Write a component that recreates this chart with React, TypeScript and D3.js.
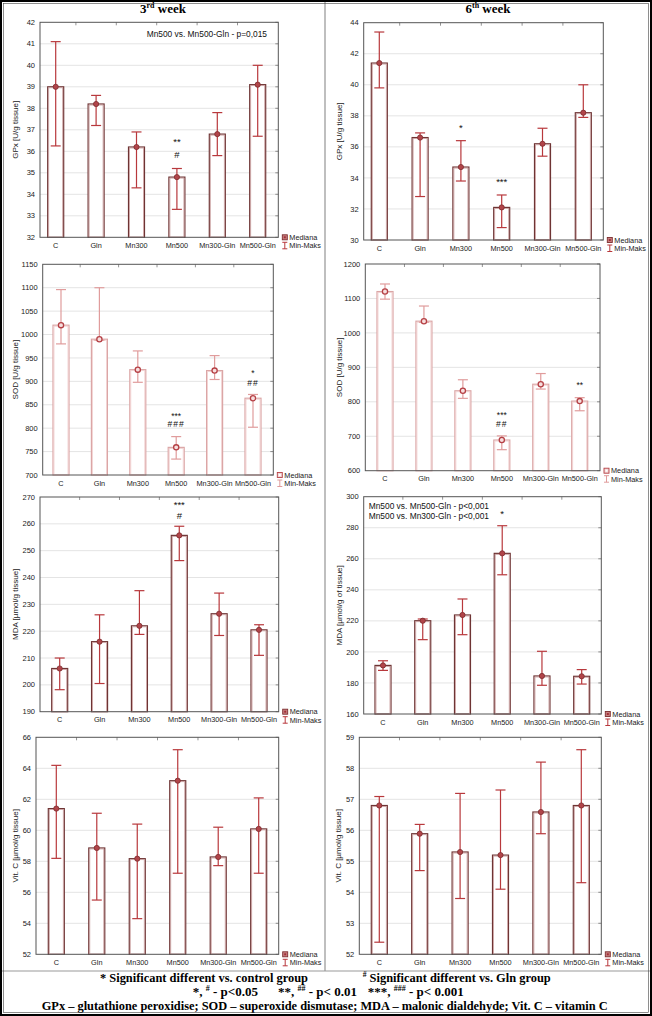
import React from "react";
import * as d3 from "d3";

const categories = ["C", "Gln", "Mn300", "Mn500", "Mn300-Gln", "Mn500-Gln"];

// GPx – 3rd week
const gpx3Median = [39.0, 38.2, 36.2, 34.8, 36.8, 39.1];
const gpx3Min = [36.25, 37.2, 34.3, 33.3, 35.8, 36.7];
const gpx3Max = [41.1, 38.6, 36.9, 35.2, 37.8, 40.0];
const gpx3Ticks = [32, 33, 34, 35, 36, 37, 38, 39, 40, 41, 42];
const gpx3Marks = [
  { cat: "Mn500", text: "**", at: 36.55 },
  { cat: "Mn500", text: "#", at: 35.86 },
];
const gpx3Notes = ["Mn500 vs. Mn500-Gln - p=0,015"];

// GPx – 6th week
const gpx6Median = [41.4, 36.6, 34.7, 32.1, 36.2, 38.2];
const gpx6Min = [39.8, 32.8, 33.8, 30.8, 35.4, 37.9];
const gpx6Max = [43.4, 36.9, 36.4, 32.9, 37.2, 40.0];
const gpx6Ticks = [30, 32, 34, 36, 38, 40, 42, 44];
const gpx6Marks = [
  { cat: "Mn300", text: "*", at: 37.4 },
  { cat: "Mn500", text: "***", at: 33.87 },
];

// SOD – 3rd week
const sod3Median = [1020, 990, 925, 759, 923, 864];
const sod3Min = [980, 988, 898, 734, 904, 802];
const sod3Max = [1096, 1100, 965, 782, 955, 872];
const sod3Ticks = [700, 750, 800, 850, 900, 950, 1000, 1050, 1100, 1150];
const sod3Marks = [
  { cat: "Mn500", text: "***", at: 831 },
  { cat: "Mn500", text: "###", at: 808 },
  { cat: "Mn500-Gln", text: "*", at: 921 },
  { cat: "Mn500-Gln", text: "##", at: 896 },
];

// SOD – 6th week
const sod6Median = [1120, 1034, 832, 689, 851, 802];
const sod6Min = [1098, 1031, 810, 661, 837, 774];
const sod6Max = [1142, 1078, 864, 701, 882, 812];
const sod6Ticks = [600, 700, 800, 900, 1000, 1100, 1200];
const sod6Marks = [
  { cat: "Mn500", text: "***", at: 766 },
  { cat: "Mn500", text: "##", at: 735 },
  { cat: "Mn500-Gln", text: "**", at: 853 },
];

// MDA – 3rd week
const mda3Median = [206.1, 216.1, 222.0, 255.7, 226.5, 220.5];
const mda3Min = [198.2, 200.5, 218.8, 246.3, 218.4, 211.0];
const mda3Max = [210.0, 226.1, 235.1, 259.1, 234.2, 222.4];
const mda3Ticks = [190, 200, 210, 220, 230, 240, 250, 260, 270];
const mda3Marks = [
  { cat: "Mn500", text: "***", at: 268.0 },
  { cat: "Mn500", text: "#", at: 263.1 },
];

// MDA – 6th week
const mda6Median = [191.3, 220.1, 223.8, 263.5, 184.5, 184.3];
const mda6Min = [188.1, 207.9, 211.1, 249.7, 178.5, 179.3];
const mda6Max = [194.3, 221.2, 234.1, 281.3, 200.4, 188.6];
const mda6Ticks = [160, 180, 200, 220, 240, 260, 280, 300];
const mda6Marks = [{ cat: "Mn500", text: "*", at: 290.3 }];
const mda6Notes = ["Mn500 vs. Mn500-Gln - p<0,001", "Mn500 vs. Mn300-Gln - p<0,001"];

// Vit. C – 3rd week
const vitc3Median = [61.4, 58.86, 58.17, 63.2, 58.28, 60.09];
const vitc3Min = [58.19, 55.5, 54.3, 57.23, 57.72, 57.23];
const vitc3Max = [64.19, 61.1, 60.4, 65.2, 60.2, 62.09];
const vitc3Ticks = [52, 54, 56, 58, 60, 62, 64, 66];

// Vit. C – 6th week
const vitc6Median = [56.8, 55.89, 55.3, 55.2, 56.59, 56.8];
const vitc6Min = [52.39, 54.7, 53.8, 54.1, 55.89, 54.31];
const vitc6Max = [57.09, 56.19, 57.19, 57.3, 58.2, 58.6];
const vitc6Ticks = [52, 53, 54, 55, 56, 57, 58, 59];

const SANS = "'Liberation Sans', Arial, sans-serif";
const SERIF = "'Liberation Serif', 'Times New Roman', serif";

type Mark = { cat: string; text: string; at: number };
type PanelCfg = {
  x0: number; x1: number; y0: number; y1: number; c0: number; c5: number;
  ticks: number[]; median: number[]; min: number[]; max: number[];
  title: string; titleX: number; pink?: boolean;
  marks?: Mark[]; notes?: string[]; noteX?: number; noteY?: number; noteAnchor?: string;
};

const panels: PanelCfg[] = [
  { x0: 40, x1: 278.3, y0: 22.3, y1: 237.3, c0: 55.7, c5: 257.7, ticks: gpx3Ticks,
    median: gpx3Median, min: gpx3Min, max: gpx3Max, title: "GPx [U/g tissue]", titleX: 16,
    marks: gpx3Marks, notes: gpx3Notes, noteX: 267, noteY: 36.5, noteAnchor: "end" },
  { x0: 363.7, x1: 603.3, y0: 22.7, y1: 240, c0: 379.3, c5: 583.3, ticks: gpx6Ticks,
    median: gpx6Median, min: gpx6Min, max: gpx6Max, title: "GPx [U/g tissue]", titleX: 340,
    marks: gpx6Marks },
  { x0: 42.7, x1: 273.3, y0: 264.3, y1: 475, c0: 61, c5: 253, ticks: sod3Ticks,
    median: sod3Median, min: sod3Min, max: sod3Max, title: "SOD [U/g tissue]", titleX: 16,
    pink: true, marks: sod3Marks },
  { x0: 365.3, x1: 600, y0: 264, y1: 470.7, c0: 385, c5: 579.7, ticks: sod6Ticks,
    median: sod6Median, min: sod6Min, max: sod6Max, title: "SOD [U/g tissue]", titleX: 340,
    pink: true, marks: sod6Marks },
  { x0: 40, x1: 278.7, y0: 497, y1: 711.7, c0: 59.7, c5: 259, ticks: mda3Ticks,
    median: mda3Median, min: mda3Min, max: mda3Max, title: "MDA [µmol/g tissue]", titleX: 16,
    marks: mda3Marks },
  { x0: 363.7, x1: 601.3, y0: 496.7, y1: 714, c0: 383, c5: 581.7, ticks: mda6Ticks,
    median: mda6Median, min: mda6Min, max: mda6Max, title: "MDA [µmol/g of tissue]", titleX: 339.5,
    marks: mda6Marks, notes: mda6Notes, noteX: 368.7, noteY: 509, noteAnchor: "start" },
  { x0: 36, x1: 278.7, y0: 737.3, y1: 954.3, c0: 56.3, c5: 258.7, ticks: vitc3Ticks,
    median: vitc3Median, min: vitc3Min, max: vitc3Max, title: "Vit. C [µmol/g tissue]", titleX: 16 },
  { x0: 359.3, x1: 601.3, y0: 737.3, y1: 954.3, c0: 379.3, c5: 581.3, ticks: vitc6Ticks,
    median: vitc6Median, min: vitc6Min, max: vitc6Max, title: "Vit. C [µmol/g tissue]", titleX: 338.5 },
];

function Panel({ p }: { p: PanelCfg }) {
  const dom = d3.extent(p.ticks) as [number, number];
  const y = d3.scaleLinear().domain(dom).range([p.y1, p.y0]);
  const x = d3.scalePoint<string>().domain(categories).range([p.c0, p.c5]);
  const step = x.step();
  const bw = 16;
  const cap = 10;
  const barOuter = p.pink ? "#dba6a6" : "#6e3434";
  const barInner = p.pink ? "#f0cccc" : "#c79a9a";
  const err = p.pink ? "#e09c9c" : "#b8383c";
  const mFill = p.pink ? "#f7dede" : "#b2454a";
  const mStroke = p.pink ? "#b54045" : "#7c2c2e";
  const markFs = p.pink ? 8.5 : 9.5;
  return (
    <g>
      {p.ticks.slice(1, -1).map((t) => (
        <line key={"g" + t} x1={p.x0} x2={p.x1} y1={y(t)} y2={y(t)} stroke="#e4e4e4" strokeWidth={1} />
      ))}
      {p.ticks.map((t) => (
        <line key={"r" + t} x1={p.x1 - 3} x2={p.x1} y1={y(t)} y2={y(t)} stroke="#777" strokeWidth={0.8} />
      ))}
      {categories.slice(0, -1).map((c) => (
        <line key={"t" + c} x1={(x(c) as number) + step / 2} x2={(x(c) as number) + step / 2}
          y1={p.y0} y2={p.y0 + 3} stroke="#777" strokeWidth={0.8} />
      ))}
      {categories.map((c, i) => {
        const cx = x(c) as number;
        const top = y(p.median[i]);
        return (
          <g key={"b" + c}>
            <rect x={cx - bw / 2} y={top} width={bw} height={p.y1 - top} fill="#fff"
              stroke={barOuter} strokeWidth={1.2} />
            <rect x={cx - bw / 2 + 1} y={top + 1} width={bw - 2} height={Math.max(0, p.y1 - top - 1)}
              fill="none" stroke={barInner} strokeWidth={0.8} />
          </g>
        );
      })}
      <rect x={p.x0} y={p.y0} width={p.x1 - p.x0} height={p.y1 - p.y0} fill="none" stroke="#555" strokeWidth={1} />
      {categories.map((c, i) => {
        const cx = x(c) as number;
        const ya = y(p.max[i]);
        const yb = y(p.min[i]);
        return (
          <g key={"e" + c} stroke={err} strokeWidth={1.2}>
            <line x1={cx} x2={cx} y1={ya} y2={yb} />
            <line x1={cx - cap / 2} x2={cx + cap / 2} y1={ya} y2={ya} />
            <line x1={cx - cap / 2} x2={cx + cap / 2} y1={yb} y2={yb} />
          </g>
        );
      })}
      {categories.map((c, i) => (
        <circle key={"m" + c} cx={x(c) as number} cy={y(p.median[i])} r={2.6}
          fill={mFill} stroke={mStroke} strokeWidth={p.pink ? 1.3 : 0.8} />
      ))}
      {p.ticks.map((t) => (
        <text key={"yl" + t} x={p.x0 - 5} y={y(t) + 2.6} textAnchor="end" fontFamily={SANS}
          fontSize={7.5} fill="#222">{t}</text>
      ))}
      {categories.map((c) => (
        <text key={"xl" + c} x={x(c) as number} y={p.y1 + 10.5} textAnchor="middle"
          fontFamily={SANS} fontSize={7.3} fill="#222">{c}</text>
      ))}
      <text transform={`translate(${p.titleX},${(p.y0 + p.y1) / 2}) rotate(-90)`} textAnchor="middle"
        dominantBaseline="middle" fontFamily={SANS} fontSize={8} fill="#222">{p.title}</text>
      {(p.marks || []).map((m, i) => {
        const star = m.text.includes("*");
        const by = y(m.at) + (star ? 0.57 : 0.36) * markFs;
        return (
          <text key={"k" + i} x={x(m.cat) as number} y={by} textAnchor="middle" fontFamily={SANS}
            fontSize={markFs} fill="#111" letterSpacing={p.pink && !star ? 1 : 0}>{m.text}</text>
        );
      })}
      {(p.notes || []).map((n, i) => (
        <text key={"n" + i} x={p.noteX} y={(p.noteY as number) + i * 10} textAnchor={p.noteAnchor as any}
          fontFamily={SANS} fontSize={8.4} fill="#111">{n}</text>
      ))}
      <g>
        <rect x={p.x1 + 4} y={p.y1 - 2.5} width={5} height={5} fill={p.pink ? "#f3d6d6" : "#c98080"}
          stroke={p.pink ? "#b54045" : "#7c2c2e"} strokeWidth={0.9} />
        <rect x={p.x1 + 5.5} y={p.y1 - 1} width={2} height={2} fill={p.pink ? "#fff" : "#a03038"} />
        <text x={p.x1 + 11} y={p.y1 + 2.6} fontFamily={SANS} fontSize={7.3} fill="#222">Mediana</text>
        <g stroke={err} strokeWidth={1}>
          <line x1={p.x1 + 6.5} x2={p.x1 + 6.5} y1={p.y1 + 5} y2={p.y1 + 11.5} />
          <line x1={p.x1 + 4} x2={p.x1 + 9} y1={p.y1 + 5} y2={p.y1 + 5} />
          <line x1={p.x1 + 4} x2={p.x1 + 9} y1={p.y1 + 11.5} y2={p.y1 + 11.5} />
        </g>
        <text x={p.x1 + 11} y={p.y1 + 10.8} fontFamily={SANS} fontSize={7.3} fill="#222">Min-Maks</text>
      </g>
    </g>
  );
}

export default function App() {
  const W = 652;
  const H = 1016;
  return (
    <div style={{ position: "absolute", left: 0, top: 0 }}>
      <svg width={W} height={H} viewBox={`0 0 ${W} ${H}`} style={{ display: "block", background: "#fff" }}>
        <rect x={0} y={0} width={W} height={H} fill="#fff" />
        <line x1={325} x2={325} y1={1} y2={971} stroke="#aaa" strokeWidth={1.5} />
        <line x1={1} x2={W - 1} y1={971} y2={971} stroke="#999" strokeWidth={1.2} />
        <text x={163} y={13} textAnchor="middle" fontFamily={SERIF} fontWeight="bold" fontSize={13} fill="#000">
          3<tspan fontSize={8} dy={-5}>rd</tspan><tspan dy={5}> week</tspan>
        </text>
        <text x={488} y={13} textAnchor="middle" fontFamily={SERIF} fontWeight="bold" fontSize={13} fill="#000">
          6<tspan fontSize={8} dy={-5}>th</tspan><tspan dy={5}> week</tspan>
        </text>
        {panels.map((p, i) => (
          <Panel key={i} p={p} />
        ))}
        <g fontFamily={SERIF} fontWeight="bold" fill="#000" fontSize={13}>
          <text x={100} y={982} textLength={208} lengthAdjust="spacingAndGlyphs">* Significant different vs. control group</text>
          <text x={362.7} y={982} textLength={188} lengthAdjust="spacingAndGlyphs">
            <tspan fontSize={8} dy={-5}>#</tspan><tspan dy={5}> Significant different vs. Gln group</tspan>
          </text>
          <text x={192.7} y={996}>
            *, <tspan fontSize={8} dy={-5}>#</tspan><tspan dy={5}> - p&lt;0.05</tspan>
          </text>
          <text x={278} y={996}>
            **, <tspan fontSize={8} dy={-5}>##</tspan><tspan dy={5}> - p&lt; 0.01</tspan>
          </text>
          <text x={367.7} y={996}>
            ***, <tspan fontSize={8} dy={-5}>###</tspan><tspan dy={5}> - p&lt; 0.001</tspan>
          </text>
          <text x={41.7} y={1010} textLength={566} lengthAdjust="spacingAndGlyphs">
            GPx – glutathione peroxidise; SOD – superoxide dismutase; MDA – malonic dialdehyde; Vit. C – vitamin C
          </text>
        </g>
        <rect x={1} y={1} width={W - 2} height={H - 2} fill="none" stroke="#000" strokeWidth={2} />
        <rect x={3.5} y={3.5} width={W - 7} height={H - 7} fill="none" stroke="#444" strokeWidth={0.6} />
      </svg>
    </div>
  );
}
